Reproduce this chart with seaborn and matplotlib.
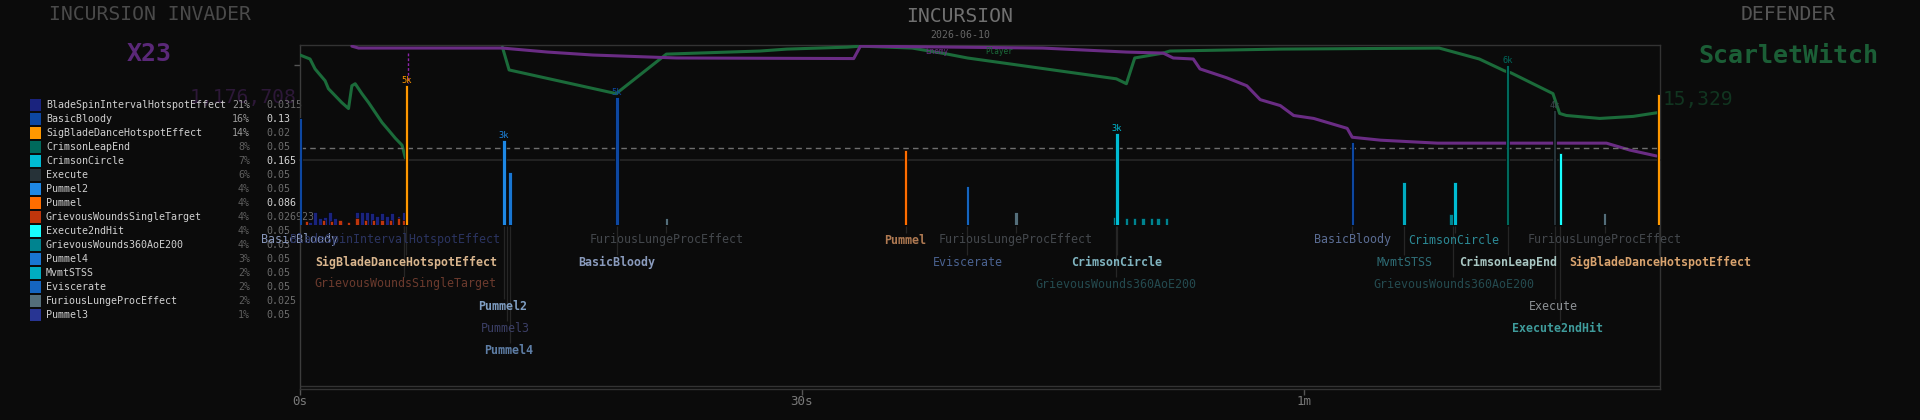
import numpy as np
import pandas as pd
import seaborn as sns
import matplotlib.pyplot as plt

# ---------------- data ----------------
match_len = 81.3  # seconds visible on the timeline

# health in % (player dies at ~6.3s and comes back at ~12.1s)
player_t1 = [0.0, 0.6, 0.9, 1.1, 1.5, 1.7, 2.1, 2.5, 2.9, 3.1, 3.3, 3.7, 4.1, 4.5, 4.9, 5.3, 5.7, 6.1, 6.3]
player_hp1 = [92.2, 88.7, 80.0, 76.5, 69.6, 62.6, 56.5, 50.4, 45.2, 65.2, 67.0, 58.3, 50.4, 41.7, 33.0, 26.1, 19.1, 13.0, 1.7]
player_t2 = [12.1, 12.5, 18.9, 21.9, 27.5, 29.1, 32.7, 33.5, 36.6, 38.7, 39.9, 48.8, 49.4, 49.9, 51.6, 52.0,
             58.6, 68.1, 70.5, 72.0, 72.4, 74.9, 75.3, 75.7, 77.7, 79.7, 81.2]
player_hp2 = [99.1, 79.1, 58.3, 93.0, 95.7, 97.4, 99.1, 100, 98.3, 93.0, 89.6, 71.3, 67.0, 89.6, 93.9, 95.7,
              97.4, 98.3, 88.7, 78.3, 76.5, 58.3, 40.9, 39.1, 36.5, 38.3, 41.7]
enemy_t = [3.1, 3.5, 12.1, 14.8, 17.5, 22.5, 33.1, 33.5, 44.4, 49.4, 51.6, 52.2, 53.4, 53.8, 55.4, 56.6,
           57.4, 58.6, 59.4, 60.6, 62.6, 62.9, 64.6, 68.0, 78.1, 79.5, 81.1]
enemy_hp = [100, 98.3, 98.3, 94.8, 92.2, 89.6, 89.1, 100, 98.3, 94.8, 93.9, 89.6, 88.7, 80.0, 72.2, 65.2,
            53.0, 47.8, 39.1, 36.5, 27.8, 20.0, 17.4, 14.8, 14.8, 8.7, 3.5]
kill_t = [6.45]

# ability table
abilities = ["BladeSpinIntervalHotspotEffect", "BasicBloody", "SigBladeDanceHotspotEffect", "CrimsonLeapEnd",
             "CrimsonCircle", "Execute", "Pummel2", "Pummel", "GrievousWoundsSingleTarget", "Execute2ndHit",
             "GrievousWounds360AoE200", "Pummel4", "MvmtSTSS", "Eviscerate", "FuriousLungeProcEffect", "Pummel3"]
share_pct = [21, 16, 14, 8, 7, 6, 4, 4, 4, 4, 4, 3, 2, 2, 2, 1]
coef = ["0.0315", "0.13", "0.02", "0.05", "0.165", "0.05", "0.05", "0.086", "0.026923", "0.05", "0.03",
        "0.05", "0.05", "0.05", "0.025", "0.05"]
ability_colors = ["#1a237e", "#0d47a1", "#ff9800", "#00695c", "#00bcd4", "#263238", "#1e88e5", "#ff6d00",
                  "#bf360c", "#18ffff", "#00838f", "#1976d2", "#00acc1", "#1565c0", "#546e7a", "#283593"]

# hits (damage in thousands)
big_ability = ["BasicBloody", "SigBladeDanceHotspotEffect", "Pummel2", "Pummel4", "BasicBloody",
               "FuriousLungeProcEffect", "Pummel", "Eviscerate", "FuriousLungeProcEffect", "CrimsonCircle",
               "BasicBloody", "MvmtSTSS", "CrimsonCircle", "CrimsonLeapEnd", "Execute", "Execute2ndHit",
               "FuriousLungeProcEffect", "SigBladeDanceHotspotEffect"]
big_t = [0.0, 6.35, 12.2, 12.55, 18.95, 21.9, 36.2, 39.9, 42.8, 48.85, 62.9, 66.0, 69.05, 72.2, 75.0, 75.35, 78.0, 81.25]
big_k = [4.0, 5.25, 3.2, 2.0, 4.8, 0.27, 2.8, 1.45, 0.5, 3.45, 3.1, 1.6, 1.6, 6.0, 4.3, 2.7, 0.45, 4.9]
big_tag = ["", "5k", "3k", "", "5k", "", "", "", "", "3k", "", "", "", "6k", "4k", "", "", ""]

spin_t = [0.6, 0.9, 1.2, 1.5, 1.8, 2.1, 2.5, 2.9, 3.4, 3.7, 4.0, 4.3, 4.6, 4.9, 5.2, 5.5, 5.9, 6.2]
spin_k = [0.12, 0.5, 0.25, 0.3, 0.5, 0.25, 0.15, 0.12, 0.5, 0.5, 0.5, 0.45, 0.35, 0.45, 0.35, 0.45, 0.35, 0.5]
wound_t = [0.4, 1.4, 1.9, 2.4, 2.9, 3.4, 3.9, 4.4, 4.9, 5.4, 5.9, 6.2]
wound_k = [0.15, 0.2, 0.15, 0.2, 0.1, 0.25, 0.2, 0.2, 0.2, 0.2, 0.25, 0.2]
aoe_t = [48.7, 49.4, 49.9, 50.4, 50.9, 51.3, 51.8, 68.8]
aoe_k = [0.3, 0.27, 0.27, 0.27, 0.27, 0.27, 0.27, 0.4]

# event labels under the timeline
lab_text = ["BasicBloody", "BladeSpinIntervalHotspotEffect", "FuriousLungeProcEffect", "Pummel",
            "FuriousLungeProcEffect", "BasicBloody", "CrimsonCircle", "FuriousLungeProcEffect",
            "SigBladeDanceHotspotEffect", "BasicBloody", "Eviscerate", "CrimsonCircle", "MvmtSTSS",
            "CrimsonLeapEnd", "SigBladeDanceHotspotEffect",
            "GrievousWoundsSingleTarget", "GrievousWounds360AoE200", "GrievousWounds360AoE200",
            "Pummel2", "Execute", "Pummel3", "Execute2ndHit", "Pummel4"]
lab_t = [0.0, 6.2, 21.9, 36.2, 42.8, 62.9, 69.05, 78.0,
         6.35, 18.95, 39.9, 48.85, 66.0, 72.2, 81.25,
         6.2, 48.8, 68.9,
         12.2, 75.0, 12.35, 75.35, 12.55]
lab_x = [-0.05, 5.7, 21.9, 36.2, 42.8, 62.9, 69.0, 78.0,
         6.35, 18.95, 39.9, 48.8, 66.0, 72.2, 81.3,
         6.3, 48.8, 69.0,
         12.1, 74.9, 12.3, 75.2, 12.5]
lab_row = [0, 0, 0, 0, 0, 0, 0, 0, 1, 1, 1, 1, 1, 1, 1, 2, 2, 2, 3, 3, 4, 4, 5]
lab_color = ["#8796ba", "#2b3461", "#44484d", "#b07a52", "#44484d", "#5b6d94", "#2c8a96", "#44484d",
             "#dab68e", "#8a9bbd", "#4a6290", "#80b4c0", "#2e6d76", "#a9c7c3", "#d9a36e",
             "#6b3a2d", "#244a4f", "#244a4f",
             "#7f9ec3", "#8e9296", "#3b3f66", "#3f9c9c", "#5e7ea6"]
lab_bold = [0, 0, 0, 1, 0, 0, 0, 0, 1, 1, 0, 1, 0, 1, 1, 0, 0, 0, 1, 0, 0, 1, 1]

# ---------------- style ----------------
bg = "#0b0b0b"
sns.set_theme(style="dark", rc={"axes.facecolor": bg, "figure.facecolor": bg})
plt.rcParams['font.family'] = ['DejaVu Sans Mono', 'DejaVu Sans']

W, H = 1920, 420
fig = plt.figure(figsize=(19.2, 4.2), dpi=100)
fig.patch.set_facecolor(bg)
color_of = dict(zip(abilities, ability_colors))


def box(left, top, right, bottom):
    return [left / W, 1 - bottom / H, (right - left) / W, (bottom - top) / H]


# pixel-space overlay for headings and the ability table
ax_txt = fig.add_axes([0, 0, 1, 1])
ax_txt.set_facecolor("none")

ax_txt.text(150, 15, "INCURSION INVADER", ha="center", va="center", fontsize=14.2, color="#4a4a4a")
ax_txt.text(149, 54, "X23", ha="center", va="center", fontsize=18, fontweight="bold", color="#5a2878")
ax_txt.text(297, 98, "1,176,708", ha="right", va="center", fontsize=14.2, color="#2d1838")
ax_txt.text(960, 17, "INCURSION", ha="center", va="center", fontsize=14.2, color="#707070")
ax_txt.text(960, 35.5, "2026-06-10", ha="center", va="center", fontsize=7.1, color="#666666")
ax_txt.text(1788, 15, "DEFENDER", ha="center", va="center", fontsize=14.2, color="#555555")
ax_txt.text(1788, 56, "ScarletWitch", ha="center", va="center", fontsize=18, fontweight="bold", color="#1b5e36")
ax_txt.text(1663, 99, "15,329", ha="left", va="center", fontsize=14, color="#113520")

rows_y = [105 + 14 * i for i in range(len(abilities))]
leg = pd.DataFrame({"x": [35.5] * len(abilities), "y": rows_y, "ability": abilities})
sns.scatterplot(data=leg, x="x", y="y", hue="ability", palette=color_of, marker="s", s=64,
                linewidth=0, legend=False, ax=ax_txt)
ax_txt.set_xlim(0, W)
ax_txt.set_ylim(H, 0)
ax_txt.axis("off")
for y, name, p, c in zip(rows_y, abilities, share_pct, coef):
    ax_txt.text(46, y, name, ha="left", va="center", fontsize=7.2, color="#d0d0d0")
    ax_txt.text(250, y, f"{p}%", ha="right", va="center", fontsize=7.2,
                color="#9a9a9a" if p >= 10 else "#5e5e5e")
    ax_txt.text(266, y, c, ha="left", va="center", fontsize=7.2,
                color="#d4d4d4" if float(c) >= 0.08 else "#6c6c6c")

# frame with the time axis, y measured in pixels from the top
ax_frame = fig.add_axes(box(300, 45, 1660, 389))
ax_frame.set_facecolor("none")
ax_frame.set_xlim(0, match_len)
ax_frame.set_ylim(389, 45)
for side in ["left", "top", "right", "bottom"]:
    ax_frame.spines[side].set_visible(True)
    ax_frame.spines[side].set_color("#333333")
    ax_frame.spines[side].set_linewidth(1)
ax_frame.spines["left"].set_color("#3c3c3c")
ax_frame.axhline(386, color="#333333", lw=1)
ax_frame.set_xticks([0, 30, 60])
ax_frame.set_xticklabels(["0s", "30s", "1m"])
ax_frame.set_yticks([65])
ax_frame.set_yticklabels([""])
ax_frame.tick_params(axis="x", colors="#555555", labelcolor="#7a7a7a", length=4, width=1,
                     labelsize=9, pad=0.5, bottom=True)
ax_frame.tick_params(axis="y", colors="#555555", length=4, width=1, left=True)
ax_frame.grid(False)

# kill marker
for k in kill_t:
    ax_frame.vlines(k, 53, 83, colors="#8e24aa", linestyles=(0, (2, 1.5)), lw=1)

# leader lines and labels
row_px = [240, 262, 284, 306, 328, 350]
for txt, t, x, r, col, b in zip(lab_text, lab_t, lab_x, lab_row, lab_color, lab_bold):
    ax_frame.vlines(t, 226, row_px[r] - 7, colors="#262626", lw=0.9)
    ax_frame.text(x, row_px[r], txt, ha="center", va="center", fontsize=8.4, color=col,
                  fontweight="bold" if b else "normal", clip_on=False)

# health panel
ax_hp = fig.add_axes(box(300, 45, 1660, 160))
ax_hp.set_facecolor("none")
sns.lineplot(x=player_t1, y=player_hp1, color="#1b6b3a", lw=2.2, estimator=None, sort=False, ax=ax_hp)
sns.lineplot(x=player_t2, y=player_hp2, color="#1b6b3a", lw=2.2, estimator=None, sort=False, ax=ax_hp)
sns.lineplot(x=enemy_t, y=enemy_hp, color="#6a2c84", lw=2.2, estimator=None, sort=False, ax=ax_hp)
ax_hp.axhline(10.4, color="#6e6e6e", lw=1, ls=(0, (4, 3)))
ax_hp.set_xlim(0, match_len)
ax_hp.set_ylim(0, 101)
ax_hp.set_xticks([])
ax_hp.set_yticks([])
ax_hp.set_xlabel("")
ax_hp.set_ylabel("")
for side in ["left", "top", "right"]:
    ax_hp.spines[side].set_visible(False)
ax_hp.spines["bottom"].set_visible(True)
ax_hp.spines["bottom"].set_color("#262626")
ax_hp.grid(False)

# damage bars
ax_bar = fig.add_axes(box(300, 45, 1660, 225))
ax_bar.set_facecolor("none")
bw = 0.2
ax_bar.bar(spin_t, spin_k, width=bw, color=color_of["BladeSpinIntervalHotspotEffect"], edgecolor="#000000", lw=0.4)
ax_bar.bar(wound_t, wound_k, width=bw, color=color_of["GrievousWoundsSingleTarget"], edgecolor="#000000", lw=0.4)
ax_bar.bar(aoe_t, aoe_k, width=bw, color=color_of["GrievousWounds360AoE200"], edgecolor="#000000", lw=0.4)
ax_bar.bar(big_t, big_k, width=bw, color=[color_of[a] for a in big_ability], edgecolor="#000000", lw=0.5)
for t, k, tag, a in zip(big_t, big_k, big_tag, big_ability):
    if tag:
        c = color_of[a] if a != "Execute" else "#3b464d"
        ax_bar.text(t, k, tag, ha="center", va="bottom", fontsize=6.2, color=c)
ax_bar.set_xlim(0, match_len)
ax_bar.set_ylim(0, 180 / 26.7)
ax_bar.axis("off")

# series names sit on top of the health lines
fig.text(937 / W, 1 - 51 / H, "Enemy", ha="center", va="center", fontsize=5.5, color="#6a2c84")
fig.text(999 / W, 1 - 51 / H, "Player", ha="center", va="center", fontsize=5.5, color="#1b6b3a")

fig.savefig("out.png", dpi=100, facecolor=bg)
